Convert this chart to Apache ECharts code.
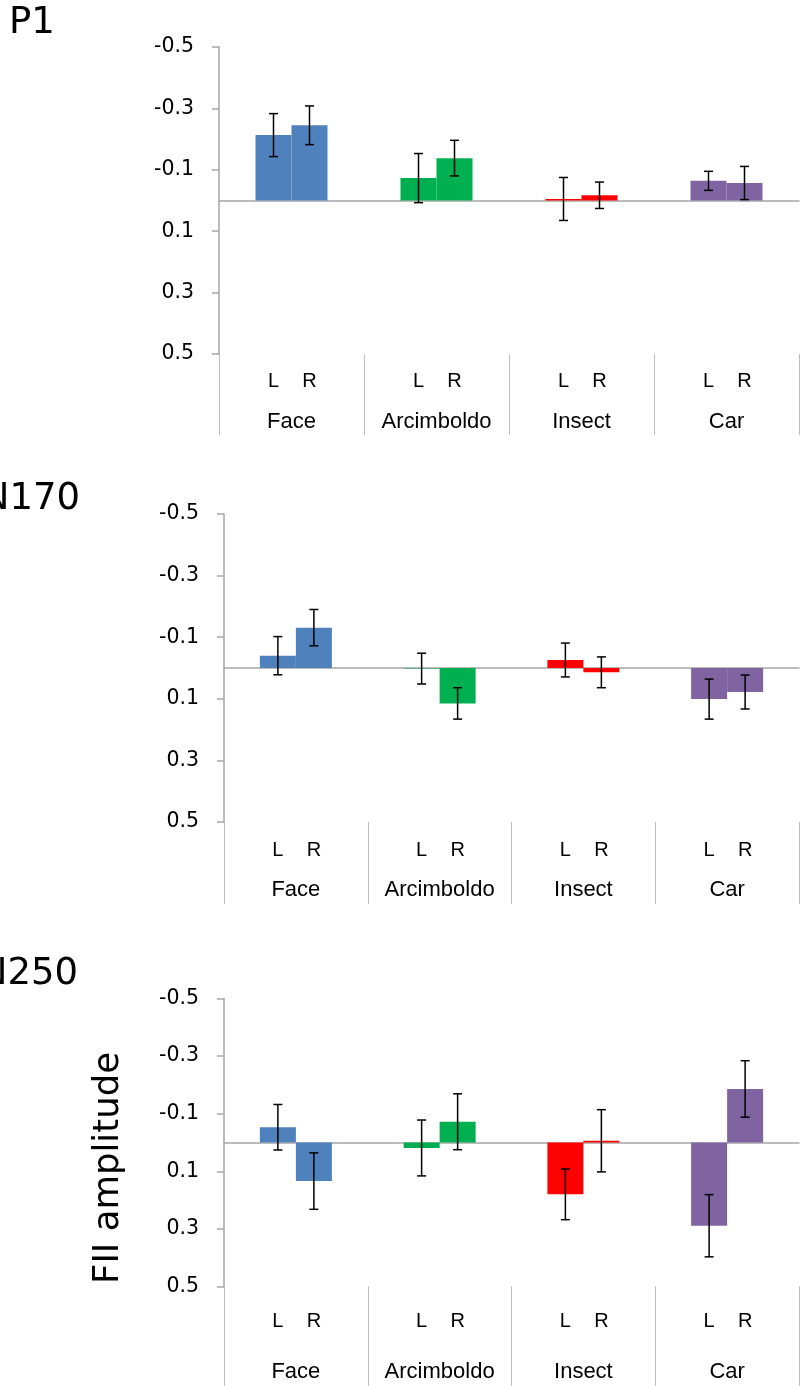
<!DOCTYPE html>
<html>
<head>
<meta charset="utf-8">
<script src="https://cdn.jsdelivr.net/npm/echarts@6/dist/echarts.min.js"></script>
<style>
html,body{margin:0;padding:0;background:#fff;}
#chart{width:806px;height:1386px;}
</style>
</head>
<body>
<div id="chart"></div>
<script>
// ---- data ----
const groups = ['Face', 'Arcimboldo', 'Insect', 'Car'];
const sides = ['L', 'R'];
const yTicks = [-0.5, -0.3, -0.1, 0.1, 0.3, 0.5];
const panelTitles = ['P1', 'N170', 'N250'];
const yAxisTitle = 'FII amplitude';

const p1Left = [-0.213, -0.073, -0.005, -0.064];
const p1LeftErr = [0.070, 0.080, 0.070, 0.031];
const p1Right = [-0.245, -0.138, -0.017, -0.057];
const p1RightErr = [0.063, 0.058, 0.043, 0.054];

const n170Left = [-0.040, 0.002, -0.026, 0.101];
const n170LeftErr = [0.062, 0.050, 0.055, 0.065];
const n170Right = [-0.131, 0.115, 0.014, 0.078];
const n170RightErr = [0.059, 0.051, 0.050, 0.055];

const n250Left = [-0.053, 0.019, 0.180, 0.289];
const n250LeftErr = [0.079, 0.097, 0.088, 0.108];
const n250Right = [0.134, -0.072, -0.006, -0.186];
const n250RightErr = [0.098, 0.097, 0.108, 0.098];

// ---- styles / layout ----
const groupColors = ['#4F81BD', '#00B050', '#FF0000', '#8064A2'];
const axisGray = '#A6A6A6';
const sepGray = '#BFBFBF';
const BAR_W = 36;

const panels = [
  { left: p1Left, leftErr: p1LeftErr, right: p1Right, rightErr: p1RightErr,
    grid: { left: 219, top: 47, width: 580, height: 307 }, tickLen: 81, lineH: 40, margin: 7.5 },
  { left: n170Left, leftErr: n170LeftErr, right: n170Right, rightErr: n170RightErr,
    grid: { left: 224, top: 514, width: 575, height: 308 }, tickLen: 82, lineH: 40, margin: 8 },
  { left: n250Left, leftErr: n250LeftErr, right: n250Right, rightErr: n250RightErr,
    grid: { left: 224, top: 998.5, width: 575, height: 288 }, tickLen: 100, lineH: 50, margin: 10 }
];

function errRender(offset) {
  return function (params, api) {
    const i = api.value(0), v = api.value(1), e = api.value(2);
    const c = api.coord([i, v]);
    const x = c[0] + offset;
    const yA = api.coord([i, v - e])[1];
    const yB = api.coord([i, v + e])[1];
    const cap = 4.5;
    const st = { stroke: '#000', lineWidth: 1.5 };
    return {
      type: 'group',
      children: [
        { type: 'line', shape: { x1: x, y1: yA, x2: x, y2: yB }, style: st },
        { type: 'line', shape: { x1: x - cap, y1: yA, x2: x + cap, y2: yA }, style: st },
        { type: 'line', shape: { x1: x - cap, y1: yB, x2: x + cap, y2: yB }, style: st }
      ]
    };
  };
}

const grid = [], xAxis = [], yAxis = [], series = [];
panels.forEach(function (p, g) {
  grid.push(Object.assign({ outerBoundsMode: 'none', containLabel: false }, p.grid));
  xAxis.push({
    type: 'category', gridIndex: g, data: groups, position: 'bottom',
    axisLine: { show: true, onZero: true, lineStyle: { color: axisGray, width: 1.5 } },
    axisTick: { show: false }, axisLabel: { show: false }, splitLine: { show: false }
  });
  xAxis.push({
    type: 'category', gridIndex: g, data: groups, position: 'bottom',
    axisLine: { show: false, onZero: false },
    axisTick: { show: true, interval: 0, length: p.tickLen, alignWithLabel: false,
      lineStyle: { color: sepGray, width: 1 } },
    axisLabel: {
      interval: 0, margin: p.margin, color: '#000',
      formatter: function (v) {
        return sides.map(function (s) { return '{s|' + s + '}'; }).join('') + '\n{g|' + v + '}';
      },
      rich: {
        s: { width: BAR_W, align: 'center', fontFamily: 'Liberation Sans', fontSize: 20, lineHeight: p.lineH, color: '#000' },
        g: { fontFamily: 'Liberation Sans', fontSize: 22, lineHeight: p.lineH, color: '#000' }
      }
    },
    splitLine: { show: false }
  });
  yAxis.push({
    type: 'value', gridIndex: g, inverse: true, min: -0.5, max: 0.5,
    axisLine: { show: true, onZero: false, lineStyle: { color: axisGray, width: 1.5 } },
    axisTick: { show: true, customValues: yTicks, length: 7, lineStyle: { color: axisGray, width: 1.5 } },
    axisLabel: { customValues: yTicks, margin: 25, color: '#000', fontFamily: 'DejaVu Sans', fontSize: 20.5,
      formatter: function (v) { return Number(v).toFixed(1); } },
    splitLine: { show: false }
  });
  const xi = g * 2;
  series.push({
    type: 'bar', xAxisIndex: xi, yAxisIndex: g, barWidth: BAR_W, barGap: '0%',
    data: p.left.map(function (v, i) { return { value: v, itemStyle: { color: groupColors[i] } }; }),
    animation: false
  });
  series.push({
    type: 'bar', xAxisIndex: xi, yAxisIndex: g, barWidth: BAR_W, barGap: '0%',
    data: p.right.map(function (v, i) { return { value: v, itemStyle: { color: groupColors[i] } }; }),
    animation: false
  });
  series.push({
    type: 'custom', xAxisIndex: xi, yAxisIndex: g, renderItem: errRender(-BAR_W / 2), z: 10,
    data: p.left.map(function (v, i) { return [i, v, p.leftErr[i]]; }), animation: false
  });
  series.push({
    type: 'custom', xAxisIndex: xi, yAxisIndex: g, renderItem: errRender(BAR_W / 2), z: 10,
    data: p.right.map(function (v, i) { return [i, v, p.rightErr[i]]; }), animation: false
  });
});

const titleFont = '37px "DejaVu Sans"';
const graphic = [
  { type: 'text', x: 9, y: 23, style: { text: panelTitles[0], font: titleFont, fill: '#000', align: 'left', verticalAlign: 'middle', textAlign: 'left', textVerticalAlign: 'middle' } },
  { type: 'text', x: 80, y: 499, style: { text: panelTitles[1], font: titleFont, fill: '#000', align: 'right', verticalAlign: 'middle', textAlign: 'right', textVerticalAlign: 'middle' } },
  { type: 'text', x: 78, y: 974, style: { text: panelTitles[2], font: titleFont, fill: '#000', align: 'right', verticalAlign: 'middle', textAlign: 'right', textVerticalAlign: 'middle' } },
  { type: 'text', x: 109, y: 1168, rotation: Math.PI / 2, style: { text: yAxisTitle, font: '35.5px "DejaVu Sans"', fill: '#000', align: 'center', verticalAlign: 'middle', textAlign: 'center', textVerticalAlign: 'middle' } }
];

const chart = echarts.init(document.getElementById('chart'), null, { renderer: 'canvas' });
chart.setOption({
  backgroundColor: '#fff',
  animation: false,
  grid: grid, xAxis: xAxis, yAxis: yAxis, series: series, graphic: graphic
});
</script>
</body>
</html>
